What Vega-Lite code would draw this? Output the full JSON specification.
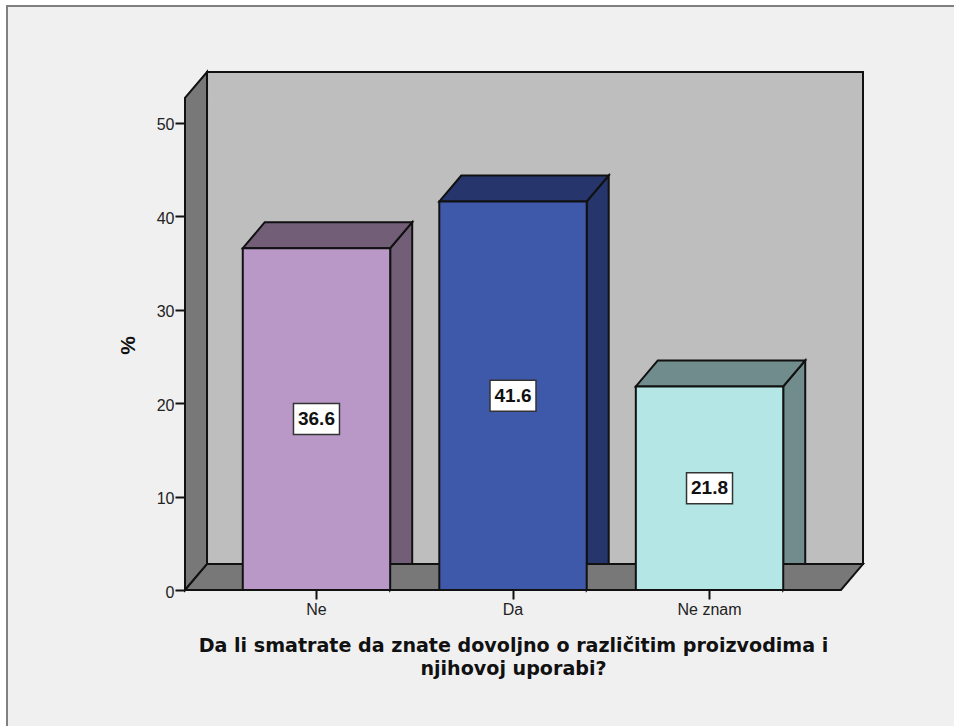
{
"$schema":"https://vega.github.io/schema/vega-lite/v6.json",
"autosize":{"type":"none"},
"padding":{"left":7,"top":6,"right":0,"bottom":0},
"width":950,"height":725,
"background":"#ffffff",
"view":{"fill":"#f0f0f0","stroke":"#808080","strokeWidth":2},
"config":{"view":{"fill":"#f0f0f0","stroke":"#808080","strokeWidth":2}},
"datasets":{
"bars":[
{"category":"Ne","percent":36.6,"mid":18.3},
{"category":"Da","percent":41.6,"mid":20.8},
{"category":"Ne znam","percent":21.8,"mid":10.9}
],
"wall":[{"from":0.4428,"to":3.781,"low":2.78,"high":55.46}],
"verticalFaces":[
{"face":"left wall","part":"wall side","pos":0.3308,"low":0,"high":52.68},
{"face":"left wall","part":"wall side","pos":0.4428,"low":2.78,"high":55.46},
{"face":"Ne side","part":"Ne shade","pos":1.375,"low":0,"high":36.6},
{"face":"Ne side","part":"Ne shade","pos":1.487,"low":2.78,"high":39.38},
{"face":"Da side","part":"Da shade","pos":2.375,"low":0,"high":41.6},
{"face":"Da side","part":"Da shade","pos":2.487,"low":2.78,"high":44.38},
{"face":"Ne znam side","part":"Ne znam shade","pos":3.375,"low":0,"high":21.8},
{"face":"Ne znam side","part":"Ne znam shade","pos":3.487,"low":2.78,"high":24.58}
],
"horizontalFaces":[
{"face":"floor","part":"wall side","level":0,"from":0.3308,"to":3.6688},
{"face":"floor","part":"wall side","level":2.78,"from":0.4428,"to":3.781},
{"face":"Ne top","part":"Ne shade","level":36.6,"from":0.625,"to":1.375},
{"face":"Ne top","part":"Ne shade","level":39.38,"from":0.737,"to":1.487},
{"face":"Da top","part":"Da shade","level":41.6,"from":1.625,"to":2.375},
{"face":"Da top","part":"Da shade","level":44.38,"from":1.737,"to":2.487},
{"face":"Ne znam top","part":"Ne znam shade","level":21.8,"from":2.625,"to":3.375},
{"face":"Ne znam top","part":"Ne znam shade","level":24.58,"from":2.737,"to":3.487}
]
},
"resolve":{"scale":{"x":"independent"}},
"layer":[
{"layer":[
{"data":{"name":"wall"},"mark":{"type":"rect","fill":"#bebebe","stroke":"#111111","strokeWidth":2},
"encoding":{
"x":{"field":"from","type":"quantitative","axis":null,"scale":{"domain":[0.3308,3.781],"range":[178,856],"nice":false,"zero":false}},
"x2":{"field":"to"},
"y":{"field":"low","type":"quantitative","title":"%","scale":{"domain":[0,55.46],"range":[584,66],"nice":false,"zero":false},
"axis":{"orient":"left","offset":-178,"values":[0,10,20,30,40,50],"grid":false,"domain":false,"tickColor":"#111111","tickWidth":2,"tickSize":10,"labelPadding":1,"labelOffset":2,"labelFont":"Liberation Sans","labelFontSize":16,"labelColor":"#222222",
"titleFont":"Liberation Sans","titleFontSize":21,"titleFontWeight":"bold","titleColor":"#111111","titleX":-47,"titleY":339}},
"y2":{"field":"high"}
}},
{"data":{"name":"verticalFaces"},"mark":{"type":"area","orient":"vertical","stroke":"#111111","strokeWidth":2,"strokeJoin":"miter"},
"encoding":{
"x":{"field":"pos","type":"quantitative","axis":null,"scale":{"domain":[0.3308,3.781],"range":[178,856],"nice":false,"zero":false}},
"y":{"field":"low","type":"quantitative","stack":null},
"y2":{"field":"high"},
"detail":{"field":"face"},
"fill":{"field":"part","type":"nominal","legend":null,"scale":{"domain":["wall side","Ne shade","Da shade","Ne znam shade","Ne","Da","Ne znam"],"range":["#787878","#735e78","#26366c","#708c8c","#b998c8","#3e58aa","#b4e6e6"]}}
}},
{"data":{"name":"horizontalFaces"},"mark":{"type":"area","orient":"horizontal","stroke":"#111111","strokeWidth":2,"strokeJoin":"miter"},
"encoding":{
"y":{"field":"level","type":"quantitative"},
"x":{"field":"from","type":"quantitative","axis":null,"stack":null,"scale":{"domain":[0.3308,3.781],"range":[178,856],"nice":false,"zero":false}},
"x2":{"field":"to"},
"detail":{"field":"face"},
"fill":{"field":"part","type":"nominal","legend":null}
}}
]},
{"data":{"name":"bars"},"layer":[
{"mark":{"type":"bar","stroke":"#111111","strokeWidth":2},
"encoding":{
"x":{"field":"category","type":"nominal","sort":null,
"scale":{"domain":["Ne","Da","Ne znam"],"range":[178,834],"paddingInner":0.25,"paddingOuter":0.294},
"title":["Da li smatrate da znate dovoljno o različitim proizvodima i","njihovoj uporabi?"],
"axis":{"orient":"bottom","offset":-141,"domain":false,"labelAngle":0,"tickColor":"#111111","tickWidth":2,"tickSize":9,"labelPadding":2,"labelFont":"Liberation Sans","labelFontSize":16,"labelColor":"#222222",
"titleFont":"DejaVu Sans","titleFontSize":19.1,"titleFontWeight":"bold","titleColor":"#111111","titleLineHeight":23,"titlePadding":19}},
"y":{"field":"percent","type":"quantitative"},
"fill":{"field":"category","type":"nominal","legend":null}
}},
{"mark":{"type":"point","shape":"M-1,-0.674H1V0.674H-1Z","filled":true,"fill":"#ffffff","stroke":"#333333","strokeWidth":1.5,"opacity":1,"size":2116},
"encoding":{
"x":{"field":"category","type":"nominal","sort":null},
"y":{"field":"mid","type":"quantitative"}
}},
{"mark":{"type":"text","font":"Liberation Sans","fontWeight":"bold","fontSize":19,"color":"#111111","baseline":"middle","align":"center"},
"encoding":{
"x":{"field":"category","type":"nominal","sort":null},
"y":{"field":"mid","type":"quantitative"},
"text":{"field":"percent","type":"quantitative","format":".1f"}
}}
]}
]
}
